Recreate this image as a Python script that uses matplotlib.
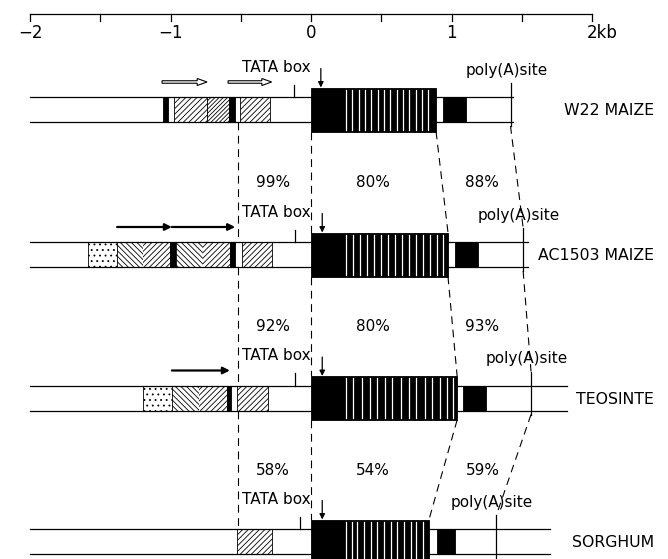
import matplotlib.pyplot as plt
import matplotlib.patches as mpatches

# ---- data (kb relative to transcription start) ----
row_names = ['W22 MAIZE', 'AC1503 MAIZE', 'TEOSINTE', 'SORGHUM']
bar_start = [-2.0, -2.0, -2.0, -2.0]
bar_end = [1.44, 1.545, 1.82, 1.70]
exon_end = [0.89, 0.975, 1.04, 0.84]
exon_solid_end = [0.23, 0.23, 0.23, 0.23]
tail_start = [0.94, 1.025, 1.08, 0.90]
tail_end = [1.10, 1.19, 1.245, 1.025]
polya_site = [1.42, 1.51, 1.566, 1.32]
tata_tick = [-0.12, -0.114, -0.114, -0.078]
tata_start = [0.07, 0.08, 0.08, 0.08]

# upstream elements: (start, end, kind)
upstream = [
    [(-1.053, -1.018, 'black'), (-0.975, -0.740, 'hatch'), (-0.740, -0.584, 'dense'),
     (-0.584, -0.541, 'black'), (-0.505, -0.292, 'hatch')],
    [(-1.587, -1.381, 'dots'), (-1.381, -1.004, 'chevron'), (-1.004, -0.961, 'black'),
     (-0.961, -0.577, 'chevron'), (-0.577, -0.541, 'black'), (-0.491, -0.278, 'hatch')],
    [(-1.196, -0.990, 'dots'), (-0.990, -0.598, 'chevron'), (-0.598, -0.569, 'black'),
     (-0.527, -0.306, 'hatch')],
    [(-0.527, -0.278, 'hatch')],
]

# repeat arrows above the promoter
open_arrows = [[(-1.06, -0.74), (-0.59, -0.28)], [], [], []]
solid_arrows = [[], [(-1.38, -0.99), (-0.99, -0.54)], [(-0.99, -0.577)], []]

# white intron stripes inside the coding block
stripes = [
    [0.25, 0.295, 0.34, 0.385, 0.43, 0.475, 0.52, 0.565, 0.61, 0.655, 0.70, 0.745, 0.79, 0.835],
    [0.25, 0.30, 0.35, 0.40, 0.45, 0.50, 0.55, 0.60, 0.65, 0.70, 0.75, 0.80, 0.85, 0.90, 0.94],
    [0.25, 0.30, 0.36, 0.42, 0.47, 0.53, 0.58, 0.64, 0.70, 0.75, 0.81, 0.86, 0.92, 0.97, 1.01],
    [0.25, 0.29, 0.33, 0.38, 0.43, 0.47, 0.52, 0.57, 0.61, 0.66, 0.71, 0.75, 0.80],
]

# sequence identity between neighbouring rows
pct_promoter = ['99%', '92%', '58%']
pct_coding = ['80%', '80%', '54%']
pct_trailer = ['88%', '93%', '59%']
pct_x = [-0.27, 0.44, 1.22]

scale_ticks = [-2, -1.5, -1, -0.5, 0, 0.5, 1, 1.5, 2]
scale_labels = ['\u22122', '\u22121', '0', '1', '2kb']
scale_label_pos = [-2, -1, 0, 1, 2]

# ---- layout ----
row_y = [109.5, 254.5, 398, 541.5]   # pixel rows (from top)
bar_h = 12.5
block_h = 22
promoter_align = -0.52

plt.rcParams['font.family'] = ['DejaVu Sans']
plt.rcParams['hatch.linewidth'] = 0.6

fig = plt.figure(figsize=(6.68, 5.59), dpi=100)
ax = fig.add_axes([0, 0, 1, 1])
ax.set_xlim(-311 / 140.5, 357 / 140.5)
ax.set_ylim(559, 0)
ax.axis('off')

hatches = {'hatch': '//////', 'dense': '////////', 'dots': '...'}

# scale bar
ax.plot([scale_ticks[0], scale_ticks[-1]], [14, 14], color='k', lw=0.9)
for t in scale_ticks:
    ax.plot([t, t], [14, 21], color='k', lw=0.9)
for pos, lab in zip(scale_label_pos, scale_labels):
    if lab.endswith('kb'):
        ax.text(pos - 0.035, 33, lab, ha='left', va='center', fontsize=12)
    else:
        ax.text(pos, 33, lab, ha='center', va='center', fontsize=12)

for i, y in enumerate(row_y):
    top, bot = y - bar_h, y + bar_h
    # open bar (two lines)
    ax.plot([bar_start[i], bar_end[i]], [top, top], color='k', lw=0.9)
    ax.plot([bar_start[i], bar_end[i]], [bot, bot], color='k', lw=0.9)

    # upstream elements
    for x0, x1, kind in upstream[i]:
        if kind == 'black':
            ax.add_patch(mpatches.Rectangle((x0, top), x1 - x0, 2 * bar_h, facecolor='k', edgecolor='k', lw=0.6))
        elif kind == 'chevron':
            mid = (x0 + x1) / 2
            ax.add_patch(mpatches.Rectangle((x0, top), mid - x0, 2 * bar_h, facecolor='white',
                                            edgecolor='k', lw=0, hatch='\\\\\\\\\\\\'))
            ax.add_patch(mpatches.Rectangle((mid, top), x1 - mid, 2 * bar_h, facecolor='white',
                                            edgecolor='k', lw=0, hatch='//////'))
            ax.add_patch(mpatches.Rectangle((x0, top), x1 - x0, 2 * bar_h, fill=False, edgecolor='k', lw=0.6))
        else:
            ax.add_patch(mpatches.Rectangle((x0, top), x1 - x0, 2 * bar_h, facecolor='white',
                                            edgecolor='k', lw=0.6, hatch=hatches[kind]))

    # TATA tick on the bar
    ax.plot([tata_tick[i], tata_tick[i]], [y - 25, top], color='k', lw=0.9)

    # coding block
    ax.add_patch(mpatches.Rectangle((0, y - block_h), exon_end[i], 2 * block_h, facecolor='k', edgecolor='k', lw=0.6))
    for s in stripes[i]:
        ax.plot([s, s], [y - block_h + 2, y + block_h - 2], color='white', lw=0.9)

    # 3' black block and poly(A) site
    ax.add_patch(mpatches.Rectangle((tail_start[i], top), tail_end[i] - tail_start[i], 2 * bar_h,
                                    facecolor='k', edgecolor='k', lw=0.6))
    ax.plot([polya_site[i], polya_site[i]], [top - 14, bot + 4], color='k', lw=0.9)

    # labels
    ax.text(-0.25, y - 42, 'TATA box', ha='center', va='center', fontsize=11)
    ax.annotate('', xy=(tata_start[i], y - block_h), xytext=(tata_start[i], y - 41),
                arrowprops=dict(arrowstyle='-|>', lw=0.9, color='k', mutation_scale=8, shrinkA=0, shrinkB=0))
    ax.text(polya_site[i] - 0.03, y - 39, 'poly(A)site', ha='center', va='center', fontsize=11)
    ax.text(2.44, y + 1, row_names[i], ha='right', va='center', fontsize=11.3)

    for x0, x1 in open_arrows[i]:
        ax.add_patch(mpatches.FancyArrow(x0, y - 27.5, x1 - x0, 0, width=2.5, head_width=7,
                                         head_length=0.07, length_includes_head=True,
                                         facecolor='white', edgecolor='k', lw=0.8))
    for x0, x1 in solid_arrows[i]:
        ax.annotate('', xy=(x1, y - 27.5), xytext=(x0, y - 27.5),
                    arrowprops=dict(arrowstyle='-|>', lw=1.6, color='k', mutation_scale=10, shrinkA=0, shrinkB=0))

# dashed alignment lines between rows
dash = dict(color='k', lw=0.8, ls=(0, (7, 5)))
for i in range(3):
    y0, y1 = row_y[i], row_y[i + 1]
    ax.plot([promoter_align, promoter_align], [y0 + bar_h, y1 - bar_h], **dash)
    ax.plot([0, 0], [y0 + block_h, y1 - block_h], **dash)
    ax.plot([exon_end[i], exon_end[i + 1]], [y0 + block_h, y1 - block_h], **dash)
    ax.plot([polya_site[i], polya_site[i + 1]], [y0 + bar_h + 4, y1 - bar_h - 14], **dash)
    ym = (y0 + y1) / 2 + 0.5
    ax.text(pct_x[0], ym, pct_promoter[i], ha='center', va='center', fontsize=11)
    ax.text(pct_x[1], ym, pct_coding[i], ha='center', va='center', fontsize=11)
    ax.text(pct_x[2], ym, pct_trailer[i], ha='center', va='center', fontsize=11)

fig.savefig('out.png', dpi=100)
